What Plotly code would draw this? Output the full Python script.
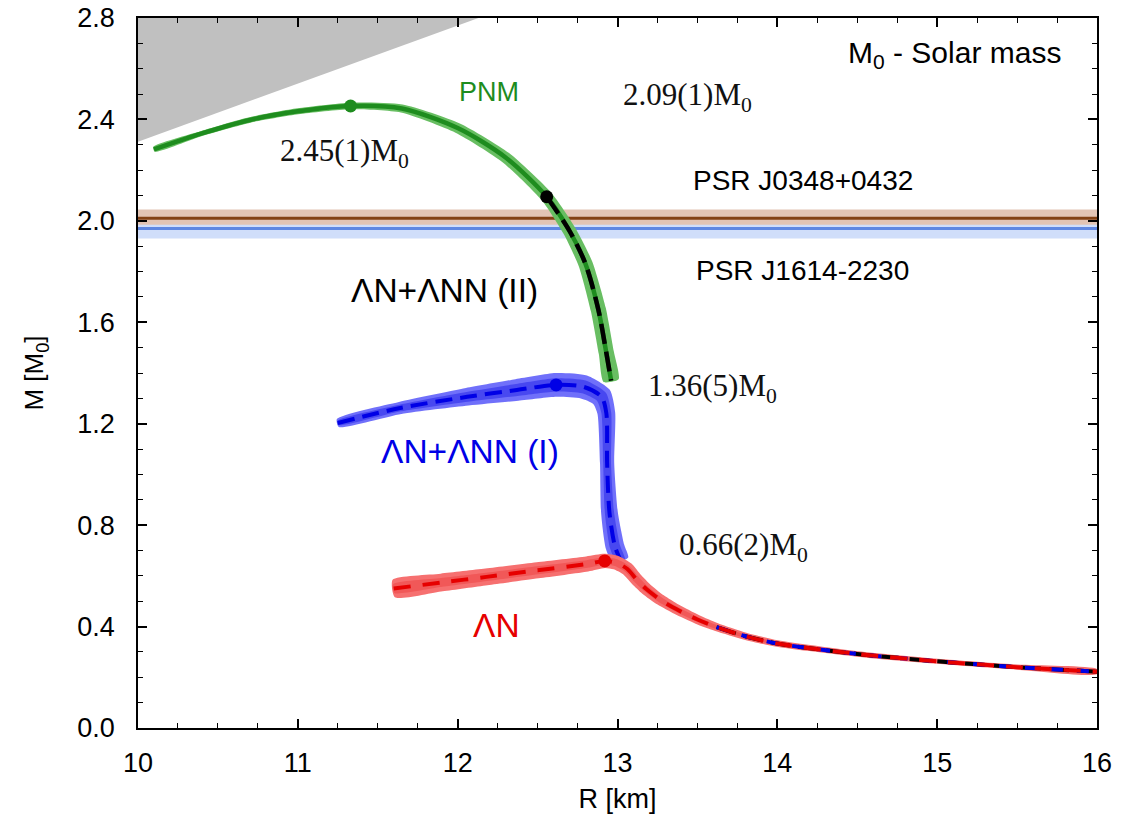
import numpy as np
import plotly.graph_objects as go

# ---------------- data ----------------
# causality-excluded region (gray)
R_CAUSAL = [10.0, 12.13, 10.0]
M_CAUSAL = [2.312, 2.8, 2.8]

# pulsar constraints
PSR_NAMES = ["PSR J0348+0432", "PSR J1614-2230"]
PSR_MASS = [2.01, 1.97]
PSR_LOW = [1.985, 1.93]
PSR_HIGH = [2.045, 2.01]

# PNM (green)
R_PNM = [10.10, 10.40, 10.70, 11.00, 11.33, 11.65, 12.00, 12.30, 12.557, 12.70, 12.80, 12.88, 12.93, 12.96]
M_PNM = [2.282, 2.345, 2.398, 2.432, 2.453, 2.443, 2.366, 2.250, 2.095, 1.960, 1.830, 1.650, 1.480, 1.370]
HW_PNM = [0.010, 0.010, 0.011, 0.012, 0.013, 0.016, 0.020, 0.022, 0.024, 0.026, 0.028, 0.030, 0.030, 0.030]

# Lambda N + Lambda NN (II) (black dashed, visible part)
R_II = [12.557, 12.70, 12.80, 12.88, 12.93, 12.96]
M_II = [2.095, 1.960, 1.830, 1.650, 1.480, 1.370]

# Lambda N + Lambda NN (I) (blue)
R_I = [11.25, 11.64, 12.06, 12.37, 12.616, 12.79, 12.90, 12.93, 12.935, 12.95, 12.985, 13.02]
M_I = [1.203, 1.262, 1.306, 1.333, 1.353, 1.345, 1.306, 1.242, 1.045, 0.848, 0.714, 0.660]
HW_I = [0.016, 0.024, 0.035, 0.043, 0.047, 0.047, 0.043, 0.035, 0.028, 0.033, 0.037, 0.032]

# Lambda N (red)
R_LN = [11.60, 11.90, 12.18, 12.50, 12.81, 12.92]
M_LN = [0.550, 0.574, 0.596, 0.622, 0.647, 0.659]
HW_LN = [0.035, 0.035, 0.033, 0.032, 0.030, 0.028]

# common low-mass tail
R_TAIL = [12.99, 13.06, 13.12, 13.18, 13.27, 13.37, 13.50, 13.62, 13.80, 14.0, 14.5, 15.0, 15.5, 16.0]
M_TAIL = [0.652, 0.628, 0.585, 0.548, 0.505, 0.468, 0.428, 0.398, 0.362, 0.333, 0.292, 0.263, 0.240, 0.222]
HW_TAIL = [0.028, 0.027, 0.025, 0.024, 0.022, 0.020, 0.018, 0.016, 0.014, 0.013, 0.011, 0.010, 0.010, 0.010]

# maximum masses
MAX_R = [11.33, 12.557, 12.616, 12.92]
MAX_M = [2.453, 2.095, 1.353, 0.659]
MAX_COLORS = ["#1e8c1e", "#000000", "#0000e6", "#e60000"]

# ---------------- geometry helpers ----------------
X0, X1, Y0, Y1 = 10.0, 16.0, 0.0, 2.8
ML, MR, MT, MB = 138, 30, 18, 87
W, H = 1127, 815
SX = (W - ML - MR) / (X1 - X0)
SY = (H - MT - MB) / (Y1 - Y0)


def band(R, M, hw, scale=1.0):
    R = np.asarray(R, float)
    M = np.asarray(M, float)
    hw = np.asarray(hw, float) * SY * scale
    X = R * SX
    Y = M * SY
    tx = np.gradient(X)
    ty = np.gradient(Y)
    n = np.hypot(tx, ty)
    nx, ny = -ty / n, tx / n
    xs = np.concatenate([X + nx * hw, (X - nx * hw)[::-1]]) / SX
    ys = np.concatenate([Y + ny * hw, (Y - ny * hw)[::-1]]) / SY
    return list(xs) + [xs[0]], list(ys) + [ys[0]]


fig = go.Figure()


def add_band(R, M, hw, color, scale=1.0):
    bx, by = band(R, M, hw, scale)
    fig.add_trace(go.Scatter(x=bx, y=by, mode="lines", fill="toself", fillcolor=color,
                             line=dict(width=0, color=color, shape="spline", smoothing=0.6),
                             hoverinfo="skip", showlegend=False))


def add_line(R, M, color, width=4, dash="solid"):
    fig.add_trace(go.Scatter(x=R, y=M, mode="lines",
                             line=dict(color=color, width=width, dash=dash, shape="spline", smoothing=0.8),
                             hoverinfo="skip", showlegend=False))


# gray region
fig.add_trace(go.Scatter(x=R_CAUSAL, y=M_CAUSAL, mode="lines", fill="toself",
                         fillcolor="rgb(192,192,192)", line=dict(width=0),
                         hoverinfo="skip", showlegend=False))

# pulsar bands and lines
PSR_BAND_COLORS = ["rgb(226,196,180)", "rgb(208,222,250)"]
PSR_LINE_COLORS = ["rgb(130,65,20)", "rgb(95,135,225)"]
for i in [1, 0]:
    fig.add_trace(go.Scatter(x=[X0, X1, X1, X0, X0],
                             y=[PSR_LOW[i], PSR_LOW[i], PSR_HIGH[i], PSR_HIGH[i], PSR_LOW[i]],
                             mode="lines", fill="toself", fillcolor=PSR_BAND_COLORS[i],
                             line=dict(width=0), hoverinfo="skip", showlegend=False))
for i in [0, 1]:
    fig.add_trace(go.Scatter(x=[X0, X1], y=[PSR_MASS[i], PSR_MASS[i]], mode="lines",
                             line=dict(color=PSR_LINE_COLORS[i], width=3),
                             hoverinfo="skip", showlegend=False))

# PNM (green)
add_band(R_PNM, M_PNM, HW_PNM, "rgb(104,190,98)")
add_line(R_PNM, M_PNM, "#1e8c1e", width=4.5)
add_line(R_II, M_II, "#000000", width=4.5, dash="20px,8px")

# (I) blue
add_band(R_I, M_I, HW_I, "rgb(112,112,250)")
add_band(R_I, M_I, HW_I, "rgb(72,72,240)", scale=0.55)
add_line(R_I, M_I, "#0000e6", width=4, dash="17px,8px")

# Lambda N red (own part + tail)
R_RED = R_LN + R_TAIL
M_RED = M_LN + M_TAIL
HW_RED = HW_LN + HW_TAIL
add_band(R_RED, M_RED, HW_RED, "rgb(246,112,112)")
add_band(R_RED, M_RED, HW_RED, "rgb(241,88,88)", scale=0.5)

# tail dashes of the other models, peeking under the red one
k = R_TAIL.index(13.62)
add_line(R_TAIL[k:], M_TAIL[k:], "#000000", width=4, dash="20px,8px")
add_line(R_TAIL[k:], M_TAIL[k:], "#0000e6", width=4, dash="12px,14px")
add_line(R_RED, M_RED, "#e60000", width=4, dash="17px,12px")

# maximum-mass dots
fig.add_trace(go.Scatter(x=MAX_R, y=MAX_M, mode="markers",
                         marker=dict(size=13, color=MAX_COLORS, line=dict(width=0)),
                         hoverinfo="skip", showlegend=False))

# ---------------- labels ----------------
SANS = "Liberation Sans, Arial, sans-serif"
SERIF = "Liberation Serif, Times New Roman, serif"
LABELS = [
    ("PNM", 12.197, 2.508, 27, "#1e8c1e", SANS),
    ("2.09(1)M<sub>0</sub>", 13.436, 2.488, 31, "#111111", SERIF),
    ("M<sub>0</sub> - Solar mass", 15.11, 2.655, 30, "#000000", SANS),
    ("2.45(1)M<sub>0</sub>", 11.289, 2.268, 31, "#111111", SERIF),
    ("PSR J0348+0432", 14.16, 2.161, 28, "#000000", SANS),
    ("PSR J1614-2230", 14.16, 1.806, 28, "#000000", SANS),
    ("ΛN+ΛNN (II)", 11.915, 1.724, 33.5, "#000000", SANS),
    ("1.36(5)M<sub>0</sub>", 13.592, 1.341, 31, "#111111", SERIF),
    ("ΛN+ΛNN (I)", 12.078, 1.089, 33.5, "#0000e6", SANS),
    ("0.66(2)M<sub>0</sub>", 13.786, 0.714, 31, "#111111", SERIF),
    ("ΛN", 12.24, 0.403, 33.5, "#e60000", SANS),
]
for text, x, y, size, color, fam in LABELS:
    fig.add_annotation(x=x, y=y, xref="x", yref="y", text=text, showarrow=False,
                       xanchor="center", yanchor="middle",
                       font=dict(size=size, color=color, family=fam))

axis_common = dict(showline=True, linecolor="black", linewidth=1.5, mirror="allticks",
                   ticks="inside", ticklen=9, tickwidth=1.5, tickcolor="black",
                   showgrid=False, zeroline=False, automargin=False, layer="above traces",
                   tickfont=dict(size=27, family=SANS, color="black"))

fig.update_xaxes(range=[X0, X1], tickvals=[10, 11, 12, 13, 14, 15, 16],
                 minor=dict(dtick=0.25, ticks="inside", ticklen=5, tickcolor="black", tickwidth=1.2, showgrid=False),
                 title=dict(text="R [km]", font=dict(size=27, family=SANS, color="black"), standoff=12),
                 ticklabelstandoff=10, **axis_common)
fig.update_yaxes(range=[Y0, Y1], tickvals=[0, 0.4, 0.8, 1.2, 1.6, 2.0, 2.4, 2.8], tickformat=".1f",
                 minor=dict(dtick=0.1, ticks="inside", ticklen=5, tickcolor="black", tickwidth=1.2, showgrid=False),
                 title=dict(text="M [M<sub>0</sub>]", font=dict(size=26, family=SANS, color="black"), standoff=26),
                 ticklabelstandoff=16, **axis_common)

fig.update_layout(width=W, height=H, margin=dict(l=ML, r=MR, t=MT, b=MB, autoexpand=False),
                  plot_bgcolor="white", paper_bgcolor="white", showlegend=False)

fig.write_html("out.html")
